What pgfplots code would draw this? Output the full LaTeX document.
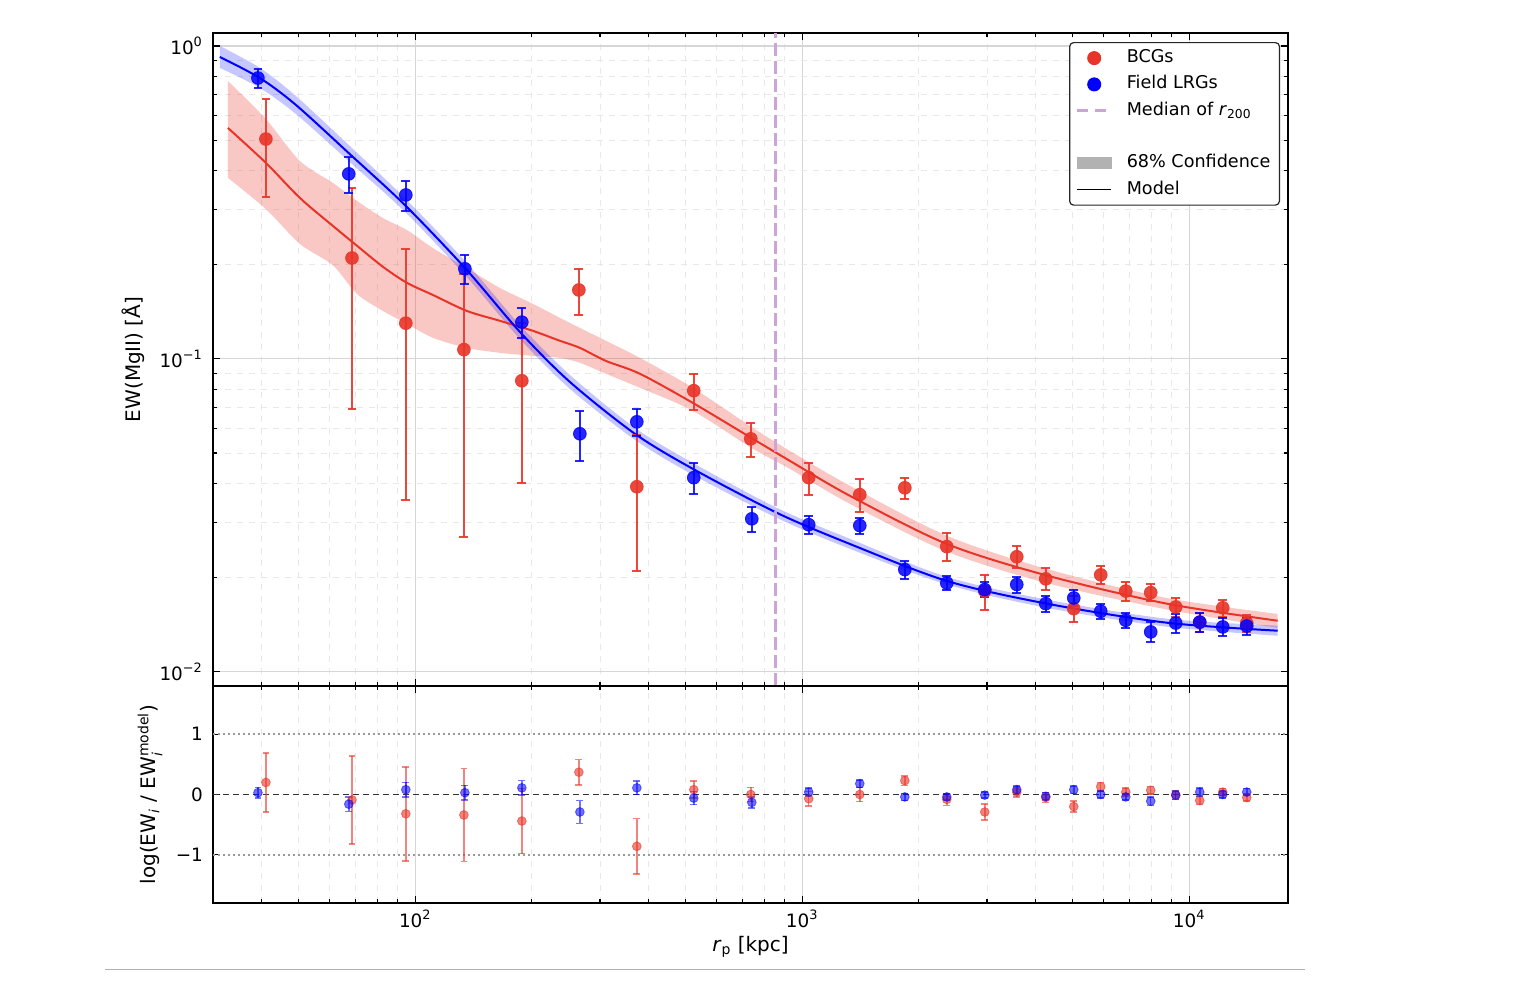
\documentclass[border=0pt]{standalone}
\usepackage{fontspec}
\setmainfont{DejaVu Sans}
\usepackage{amsmath}
\usepackage{pgfplots}
\usepackage{pgfplotstable}
\pgfplotsset{compat=1.18}
\usepgfplotslibrary{fillbetween}

\definecolor{bcgred}{RGB}{232,52,40}
\definecolor{lrgblue}{RGB}{0,0,255}
\definecolor{medcol}{RGB}{204,164,216}

% BCG data: x, EW, sigma
\pgfplotstableread{
x y e
41.1 0.504 0.175
68.6 0.210 0.141
94.5 0.130 0.0945
133.5 0.107 0.080
188.5 0.0851 0.045
264.6 0.166 0.0275
373.6 0.0390 0.018
524.3 0.0791 0.0105
736.1 0.0555 0.0070
1039 0.0417 0.0049
1408 0.0368 0.0044
1841 0.0387 0.0030
2363 0.0251 0.0026
2962 0.0181 0.0023
3584 0.0233 0.0019
4258 0.0198 0.0016
5030 0.0159 0.0015
5906 0.0204 0.0014
6855 0.0181 0.0013
7952 0.0179 0.0011
9228 0.0161 0.0011
10645 0.0144 0.0010
12206 0.0160 0.0010
14081 0.0143 0.0009
}\bcg

% Field LRG data
\pgfplotstableread{
x y e
39.2 0.790 0.055
67.3 0.390 0.051
94.5 0.334 0.037
134.3 0.194 0.021
188.5 0.131 0.0145
266.2 0.0576 0.0105
373.6 0.0629 0.0064
524.3 0.0417 0.0046
740.5 0.0308 0.0029
1039 0.0295 0.0020
1408 0.0293 0.0017
1841 0.0212 0.0014
2363 0.0192 0.0010
2962 0.0183 0.0010
3584 0.0190 0.0011
4258 0.0165 0.0010
5030 0.0172 0.0010
5906 0.0156 0.0009
6855 0.0146 0.0008
7952 0.0134 0.0010
9228 0.0143 0.0010
10645 0.0144 0.0010
12206 0.0139 0.0009
14081 0.0140 0.0009
}\lrg

% BCG model and 68% band
\pgfplotstableread{
x lo mid hi
32.78 0.379 0.547 0.773
41.09 0.301 0.423 0.584
50.29 0.233 0.327 0.429
61.22 0.199 0.266 0.365
70.61 0.1613 0.230 0.320
82.41 0.1423 0.197 0.282
95.07 0.1294 0.175 0.258
111.0 0.1167 0.1600 0.226
135.8 0.1084 0.1423 0.195
165.3 0.1045 0.1323 0.1685
201.2 0.1022 0.1229 0.1499
236.3 0.1007 0.1142 0.1352
266.2 0.0971 0.1084 0.1256
310.7 0.0896 0.0985 0.1142
380.4 0.0808 0.0896 0.1007
521.3 0.0682 0.0723 0.0808
745.0 0.0516 0.0555 0.0602
928.4 0.0445 0.0472 0.0508
1327 0.0344 0.0365 0.0393
2363 0.0242 0.0256 0.0272
4283 0.0192 0.0203 0.0213
8748 0.0158 0.0165 0.0172
16930 0.0138 0.01455 0.0153
}\redband

% LRG model and 68% band
\pgfplotstableread{
x lo mid hi
31.25 0.851 0.922 1.000
39.64 0.734 0.790 0.851
49.12 0.606 0.648 0.692
68.95 0.417 0.442 0.469
94.51 0.293 0.308 0.324
135.0 0.1841 0.1939 0.2041
186.2 0.1158 0.1220 0.1284
250.7 0.0802 0.0844 0.0889
369.3 0.0551 0.0576 0.0602
521.3 0.0426 0.0445 0.0465
859.4 0.0310 0.0322 0.0334
1327 0.0247 0.0256 0.0266
2363 0.0190 0.0195 0.0201
4283 0.0160 0.0165 0.0170
8748 0.01392 0.01434 0.01477
16930 0.01303 0.01352 0.01403
}\blueband

% residuals
\pgfplotstableread{
x y e
41.1 0.20 0.49
68.6 -0.09 0.73
94.5 -0.32 0.78
133.5 -0.34 0.77
188.5 -0.44 0.54
264.6 0.37 0.21
373.6 -0.86 0.46
524.3 0.08 0.14
736.1 0.00 0.12
1039 -0.07 0.12
1408 0.00 0.12
1841 0.23 0.08
2363 -0.08 0.10
2962 -0.29 0.13
3584 0.04 0.08
4258 -0.05 0.08
5030 -0.20 0.09
5906 0.13 0.07
6855 0.04 0.07
7952 0.07 0.06
9228 -0.01 0.07
10645 -0.10 0.07
12206 0.04 0.06
14081 -0.05 0.06
}\bcgres

\pgfplotstableread{
x y e
39.2 0.03 0.09
67.3 -0.16 0.12
94.5 0.08 0.12
134.3 0.03 0.12
188.5 0.11 0.12
266.2 -0.29 0.19
373.6 0.11 0.11
524.3 -0.06 0.11
740.5 -0.13 0.09
1039 0.04 0.07
1408 0.18 0.06
1841 -0.04 0.06
2363 -0.04 0.05
2962 -0.01 0.05
3584 0.08 0.06
4258 -0.03 0.06
5030 0.08 0.06
5906 0.00 0.06
6855 -0.04 0.05
7952 -0.11 0.07
9228 -0.01 0.07
10645 0.04 0.07
12206 0.00 0.06
14081 0.04 0.06
}\lrgres

\begin{document}
\begin{tikzpicture}
\path (0,0) rectangle (761pt,493pt);

\begin{axis}[
  at={(106.5pt,150pt)}, anchor=south west,
  scale only axis, width=537.5pt, height=326.5pt,
  xmode=log, ymode=log,
  xmin=30, xmax=18000, ymin=0.009, ymax=1.1,
  xtick={100,1000,10000},
  xticklabels={},
  minor xtick={40,50,60,70,80,90,200,300,400,500,600,700,800,900,2000,3000,4000,5000,6000,7000,8000,9000},
  ytick={0.01,0.1,1},
  yticklabels={10\textsuperscript{−2},10\textsuperscript{−1},10\textsuperscript{0}},
  minor ytick={0.02,0.03,0.04,0.05,0.06,0.07,0.08,0.09,0.2,0.3,0.4,0.5,0.6,0.7,0.8,0.9},
  tick align=inside, tick pos=both,
  major tick length=3.5pt, minor tick length=2pt,
  tick style={black, line width=0.6pt},
  axis line style={line width=0.7pt},
  font=\fontsize{8.8}{10.5}\selectfont,
  tick label style={font=\fontsize{9.2}{11}\selectfont},
  grid=both,
  major grid style={black!16, line width=0.6pt},
  minor grid style={black!9, dashed, line width=0.4pt},
  yticklabel style={xshift=-1.5pt},
  ylabel={EW(MgII) [Å]},
  ylabel style={at={(axis description cs:-0.0744,0.5)}, anchor=center, font=\fontsize{10}{12}\selectfont},
  legend cell align=left,
  legend style={at={(0.9926,0.9862)}, anchor=north east,
    draw=black!85, line width=0.6pt, rounded corners=2pt, fill=white,
    inner xsep=3pt, inner ysep=2pt, row sep=1.65pt,
    nodes={inner sep=1.5pt, text height=6.5pt, text depth=2pt},
    /tikz/every odd column/.append style={column sep=5.5pt}},
]
% bands
\addplot[draw=none, smooth, name path=rhi, forget plot] table[x=x,y=hi]{\redband};
\addplot[draw=none, smooth, name path=rlo, forget plot] table[x=x,y=lo]{\redband};
\addplot[fill=bcgred, fill opacity=0.27, draw=none, forget plot] fill between[of=rhi and rlo];
\addplot[draw=none, smooth, name path=bhi, forget plot] table[x=x,y=hi]{\blueband};
\addplot[draw=none, smooth, name path=blo, forget plot] table[x=x,y=lo]{\blueband};
\addplot[fill=lrgblue, fill opacity=0.22, draw=none, forget plot] fill between[of=bhi and blo];
% model lines
\addplot[bcgred, line width=1pt, smooth, forget plot] table[x=x,y=mid]{\redband};
\addplot[lrgblue, line width=1pt, smooth, forget plot] table[x=x,y=mid]{\blueband};
% median r200
\addplot[medcol, line width=1.5pt, dash pattern=on 6.5pt off 2.5pt, forget plot] coordinates {(854,0.009) (854,1.1)};
% data
\addplot[forget plot, only marks, mark=*, mark size=3.2pt, color=bcgred, mark options={opacity=0.9},
  error bars/.cd, y dir=both, y explicit, error mark=|,
  error bar style={line width=1pt, bcgred, opacity=0.9},
  error mark options={mark size=2.2pt, line width=1pt, bcgred, opacity=0.9}]
  table[x=x,y=y,y error=e]{\bcg};
\addplot[forget plot, only marks, mark=*, mark size=3.2pt, color=lrgblue, mark options={opacity=0.85},
  error bars/.cd, y dir=both, y explicit, error mark=|,
  error bar style={line width=1pt, lrgblue, opacity=0.85},
  error mark options={mark size=2.2pt, line width=1pt, lrgblue, opacity=0.85}]
  table[x=x,y=y,y error=e]{\lrg};
% legend
\addlegendimage{only marks, mark=*, mark size=3.2pt, bcgred}
\addlegendentry{BCGs}
\addlegendimage{only marks, mark=*, mark size=3.2pt, lrgblue}
\addlegendentry{Field LRGs}
\addlegendimage{medcol, line width=1.5pt, dash pattern=on 5.5pt off 3.5pt}
\addlegendentry{Median of \textit{r}$_{\text{200}}$}
\addlegendimage{empty legend}
\addlegendentry{}
\addlegendimage{area legend, fill=black!30, draw=black!30, line width=0pt, sharp corners}
\addlegendentry{68\% Confidence}
\addlegendimage{black, line width=0.8pt, sharp corners}
\addlegendentry{Model}
\end{axis}

\begin{axis}[
  at={(106.5pt,41.5pt)}, anchor=south west,
  scale only axis, width=537.5pt, height=108.5pt,
  xmode=log,
  xmin=30, xmax=18000, ymin=-1.8, ymax=1.8,
  xtick={100,1000,10000},
  xticklabels={10\textsuperscript{2},10\textsuperscript{3},10\textsuperscript{4}},
  minor xtick={40,50,60,70,80,90,200,300,400,500,600,700,800,900,2000,3000,4000,5000,6000,7000,8000,9000},
  ytick={-1,0,1}, yticklabels={−1,0,1},
  tick align=inside, tick pos=both,
  major tick length=3.5pt, minor tick length=2pt,
  tick style={black, line width=0.6pt},
  axis line style={line width=0.7pt},
  font=\fontsize{8.8}{10.5}\selectfont,
  tick label style={font=\fontsize{9.2}{11}\selectfont},
  xmajorgrids, xminorgrids,
  major grid style={black!16, line width=0.6pt},
  minor grid style={black!9, dashed, line width=0.4pt},
  yticklabel style={xshift=-1.5pt},
  xlabel={\textit{r}$_{\text{p}}$ [kpc]},
  xlabel style={at={(axis description cs:0.5,-0.203)}, anchor=center, font=\fontsize{10}{12}\selectfont},
  ylabel={log(EW$_{\textit{i}}$ / EW$_{\textit{i}}^{\text{model}}$)},
  ylabel style={at={(axis description cs:-0.0586,0.5)}, anchor=center, font=\fontsize{10}{12}\selectfont},
]
\addplot[black!40, line width=0.9pt, dash pattern=on 0.8pt off 1.7pt, forget plot] coordinates {(30,1) (18000,1)};
\addplot[black!40, line width=0.9pt, dash pattern=on 0.8pt off 1.7pt, forget plot] coordinates {(30,-1) (18000,-1)};
\addplot[black!80, line width=0.8pt, dash pattern=on 3pt off 2pt, forget plot] coordinates {(30,0) (18000,0)};
\addplot[forget plot, only marks, mark=*, mark size=2.2pt, color=bcgred, mark options={opacity=0.6},
  error bars/.cd, y dir=both, y explicit, error mark=|,
  error bar style={line width=0.75pt, bcgred, opacity=0.6},
  error mark options={mark size=1.7pt, line width=0.75pt, bcgred, opacity=0.6}]
  table[x=x,y=y,y error=e]{\bcgres};
\addplot[forget plot, only marks, mark=*, mark size=2.2pt, color=lrgblue, mark options={opacity=0.55},
  error bars/.cd, y dir=both, y explicit, error mark=|,
  error bar style={line width=0.75pt, lrgblue, opacity=0.55},
  error mark options={mark size=1.7pt, line width=0.75pt, lrgblue, opacity=0.55}]
  table[x=x,y=y,y error=e]{\lrgres};
\end{axis}

\draw[black!30, line width=0.5pt] (52.5pt,8pt) -- (652.5pt,8pt);
\end{tikzpicture}
\end{document}
